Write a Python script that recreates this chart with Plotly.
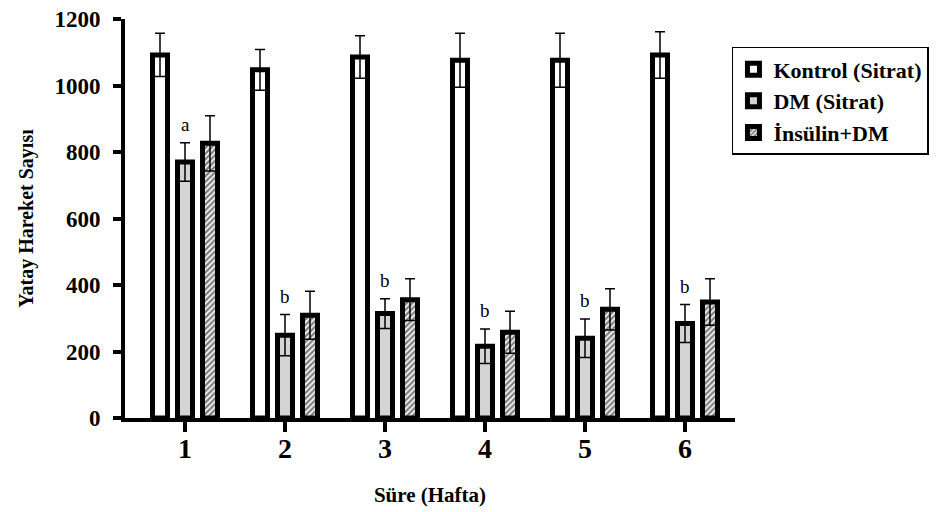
import plotly.graph_objects as go

weeks = [1, 2, 3, 4, 5, 6]
tick_labels = ["1", "2", "3", "4", "5", "6"]

kontrol = [1092, 1047, 1086, 1076, 1076, 1092]
kontrol_err = [65, 61, 64, 81, 81, 70]

dm = [770, 249, 314, 216, 240, 284]
dm_err = [58, 62, 45, 52, 58, 57]

insulin = [826, 309, 356, 258, 327, 349]
insulin_err = [83, 72, 63, 63, 62, 70]

letters = ["a", "b", "b", "b", "b", "b"]

FONT = "Liberation Serif"

def err(arr):
    return dict(type="data", array=arr, arrayminus=arr, symmetric=False,
                color="black", thickness=1.5, width=5)

fig = go.Figure()
fig.add_trace(go.Bar(
    x=weeks, y=kontrol, name="Kontrol (Sitrat)",
    marker=dict(color="white", line=dict(color="black", width=5)),
    error_y=err(kontrol_err)))
fig.add_trace(go.Bar(
    x=weeks, y=dm, name="DM (Sitrat)",
    marker=dict(color="#d4d4d4", line=dict(color="black", width=5)),
    error_y=err(dm_err)))
fig.add_trace(go.Bar(
    x=weeks, y=insulin, name="İnsülin+DM",
    marker=dict(color="white", line=dict(color="black", width=5),
                pattern=dict(shape="/", fgcolor="black", bgcolor="white",
                             size=4, solidity=0.6)),
    error_y=err(insulin_err)))

for w, v, e, t in zip(weeks, dm, dm_err, letters):
    fig.add_annotation(x=w, y=v + e, text=t, showarrow=False,
                       yanchor="bottom", yshift=6,
                       font=dict(family=FONT, size=19, color="black"))

fig.update_layout(
    width=929, height=504, autosize=False,
    margin=dict(l=117, r=202, t=11, b=94, autoexpand=False),
    paper_bgcolor="white", plot_bgcolor="white",
    barmode="group", bargap=0.25, bargroupgap=0.4,
    font=dict(family=FONT, color="black"),
    showlegend=True,
    legend=dict(x=0.995, y=0.93, xanchor="left", yanchor="top",
                bgcolor="white", bordercolor="black", borderwidth=1.5,
                font=dict(family=FONT, size=22, color="black", weight="bold"),
                tracegroupgap=0),
    xaxis=dict(
        range=[0.40, 6.5], tickmode="array", tickvals=weeks, ticktext=tick_labels,
        automargin=False, ticklabeloverflow="allow",
        showgrid=False, zeroline=False, showline=True, linecolor="black", linewidth=4,
        ticks="outside", ticklen=10, tickwidth=4, tickcolor="black",
        ticklabelstandoff=-8,
        tickfont=dict(family=FONT, size=28, color="black", weight="bold"),
        title=dict(text="Süre (Hafta)", standoff=26,
                   font=dict(family=FONT, size=21, color="black", weight="bold")),
    ),
    yaxis=dict(
        range=[0, 1200], tickmode="array", tickvals=[0, 200, 400, 600, 800, 1000, 1200],
        automargin=False, ticklabeloverflow="allow",
        showgrid=False, zeroline=False, showline=True, linecolor="black", linewidth=4,
        ticks="outside", ticklen=8, tickwidth=4, tickcolor="black",
        ticklabelstandoff=8,
        tickfont=dict(family=FONT, size=23, color="black", weight="bold"),
        title=dict(text="Yatay Hareket Sayısı", standoff=16,
                   font=dict(family=FONT, size=20, color="black", weight="bold")),
    ),
)

fig.write_html("out.html")
